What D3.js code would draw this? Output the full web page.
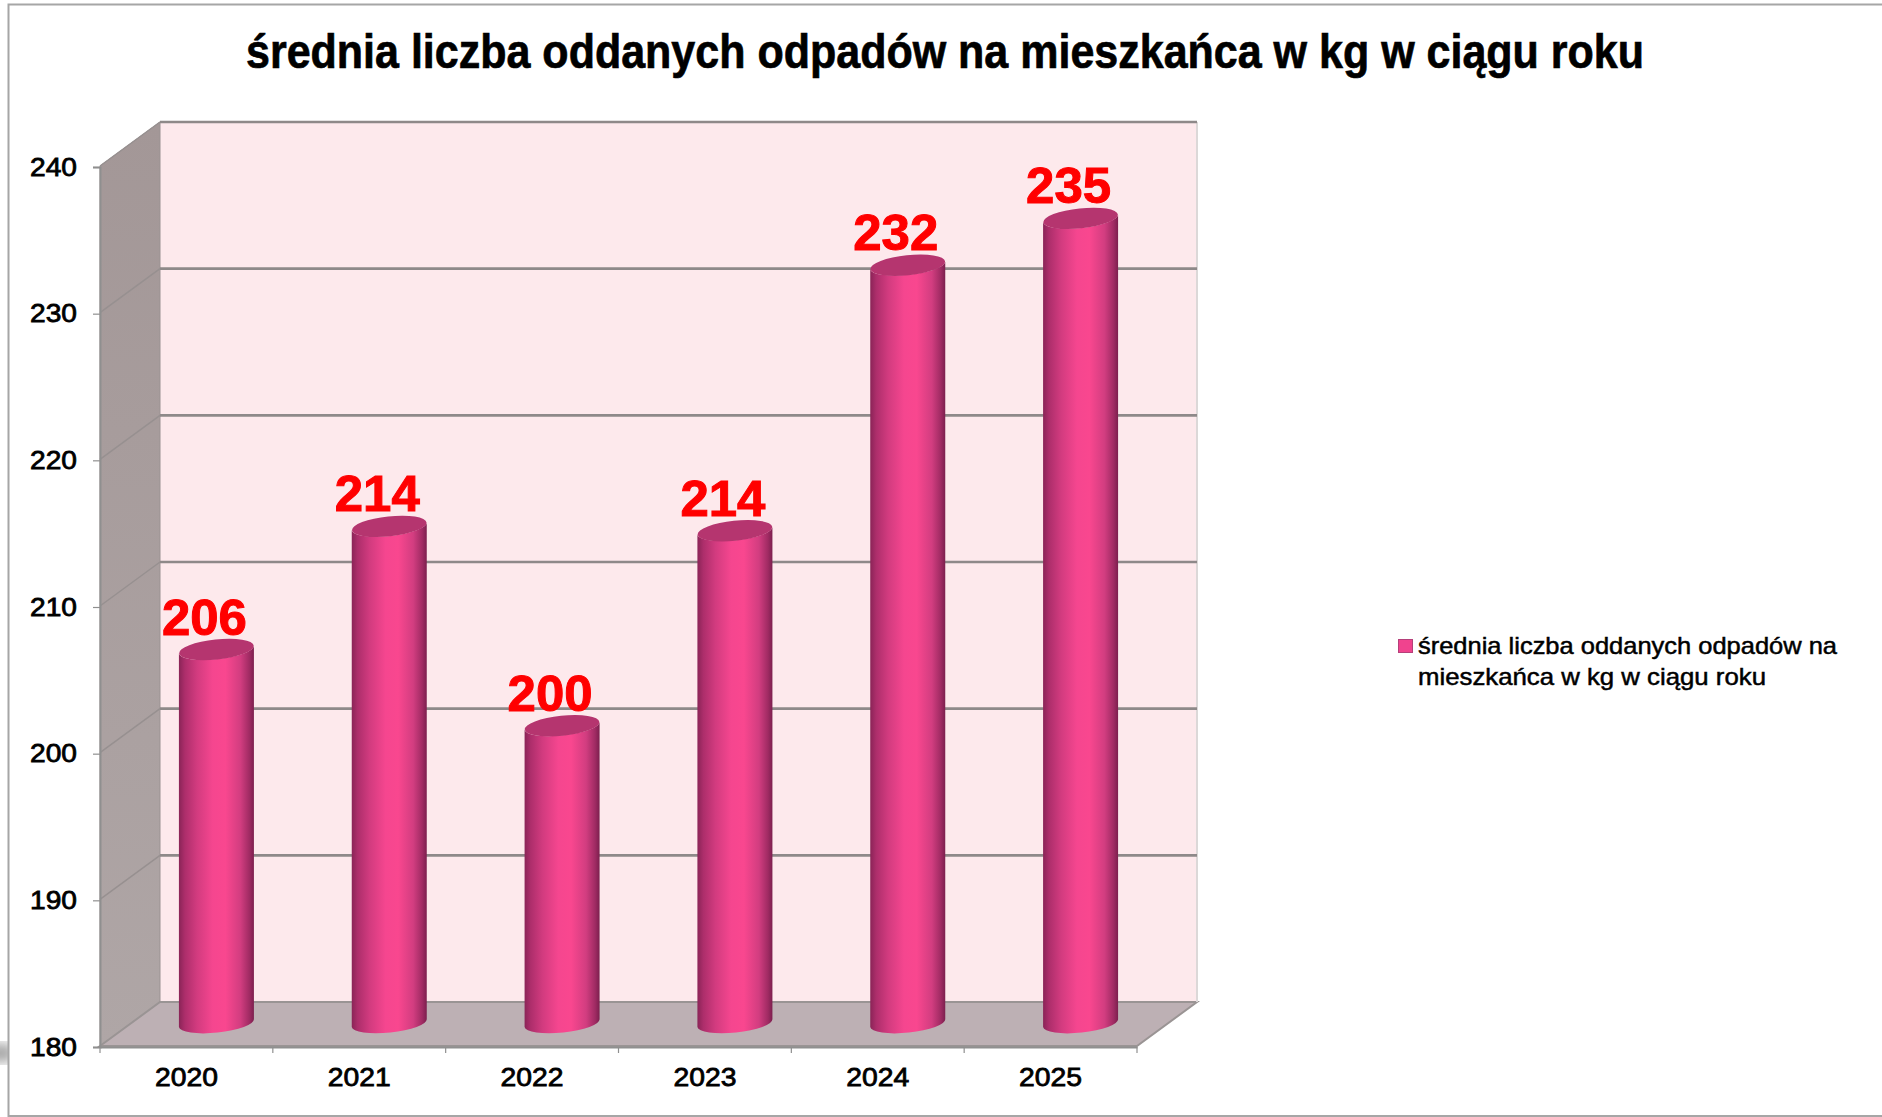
<!DOCTYPE html>
<html lang="pl">
<head>
<meta charset="utf-8">
<script src="https://cdn.jsdelivr.net/npm/d3@7/dist/d3.min.js"></script>
<style>
html,body{margin:0;padding:0;background:#fff;overflow:hidden}
svg{display:block}
</style>
</head>
<body>
<svg id="chart" width="1882" height="1117"></svg>
<script>
const titleText = "średnia liczba oddanych odpadów na mieszkańca w kg w ciągu roku";
const legendLines = ["średnia liczba oddanych odpadów na", "mieszkańca w kg w ciągu roku"];
const years = ["2020", "2021", "2022", "2023", "2024", "2025"];
const values = [205.6, 214.0, 200.4, 213.7, 231.8, 235];
const valueLabels = ["206", "214", "200", "214", "232", "235"];
const yTicks = [180, 190, 200, 210, 220, 230, 240];

const svg = d3.select("#chart");
const W = 1882, H = 1117;
const left = 100, right = 1137, top_ = 166, bottom = 1046;
const depthX = 60, depthY = -44;

const x = d3.scaleBand().domain(years).range([left, right]).padding(0);
const y = d3.scaleLinear().domain([180, 240]).range([bottom, top_]);

const defs = svg.append("defs");
const cyl = defs.append("linearGradient").attr("id", "cyl");
[[0, "#8a2457"], [0.08, "#ad2e6b"], [0.24, "#d23b7f"], [0.45, "#f5468f"], [0.62, "#f9478f"], [0.82, "#d23d80"], [0.94, "#a02b63"], [1, "#7c1f4e"]]
  .forEach(([o, c]) => cyl.append("stop").attr("offset", o).attr("stop-color", c));
const wall = defs.append("linearGradient").attr("id", "wall").attr("x1", 0).attr("y1", 0).attr("x2", 0).attr("y2", 1);
wall.append("stop").attr("offset", 0).attr("stop-color", "#a39797");
wall.append("stop").attr("offset", 1).attr("stop-color", "#afa6a6");
defs.append("filter").attr("id", "blur").append("feGaussianBlur").attr("stdDeviation", 6);

// page frame
svg.append("ellipse").attr("cx", 0).attr("cy", 1053).attr("rx", 16).attr("ry", 10)
  .attr("fill", "#a8a8a8").attr("filter", "url(#blur)");
svg.append("path").attr("d", `M8.5,${H}V4.5H${W}`).attr("fill", "#fff").attr("stroke", "#a6a6a6").attr("stroke-width", 2);
svg.append("path").attr("d", `M8.5,1116H${W}`).attr("stroke", "#a6a6a6").attr("stroke-width", 2);

// 3D box
const bx = v => v + depthX, by = v => v + depthY;
svg.append("rect").attr("x", bx(left)).attr("y", by(top_)).attr("width", right - left).attr("height", bottom - top_)
  .attr("fill", "#fde9ec");
svg.append("path")
  .attr("d", `M${left},${top_}L${bx(left)},${by(top_)}V${by(bottom)}L${left},${bottom}Z`)
  .attr("fill", "url(#wall)").attr("stroke", "#9a9292").attr("stroke-width", 1);
svg.append("path")
  .attr("d", `M${left},${bottom}L${bx(left)},${by(bottom)}H${bx(right)}L${right},${bottom}Z`)
  .attr("fill", "#bdb0b4").attr("stroke", "#9a9494").attr("stroke-width", 2);
svg.append("path").attr("d", `M${bx(right)},${by(top_)}V${by(bottom)}`).attr("stroke", "#dcd8d8").attr("stroke-width", 2).attr("fill", "none");

// gridlines
svg.append("g").selectAll("path").data(yTicks.slice(1)).join("path")
  .attr("d", d => `M${bx(left)},${by(y(d))}H${bx(right)}`)
  .attr("fill", "none").attr("stroke", "#8e8989").attr("stroke-width", 2.6);
svg.append("g").selectAll("path").data(yTicks.slice(1)).join("path")
  .attr("d", d => `M${left},${y(d)}L${bx(left)},${by(y(d))}`)
  .attr("fill", "none").attr("stroke", "#979090").attr("stroke-width", 1.5);

// axes
const fontAxis = "'Liberation Sans', Arial, sans-serif";
const yAxis = svg.append("g").attr("transform", `translate(${left},1)`)
  .call(d3.axisLeft(y).tickValues(yTicks).tickSize(7).tickPadding(16));
const xAxis = svg.append("g").attr("transform", `translate(0,${bottom + 1})`)
  .call(d3.axisBottom(x).tickSize(0).tickPadding(14));
svg.append("g").selectAll("line").data(d3.range(0, years.length + 1)).join("line")
  .attr("x1", i => left + i * x.step()).attr("x2", i => left + i * x.step())
  .attr("y1", bottom + 1).attr("y2", bottom + 7).attr("stroke", "#8f8f8f").attr("stroke-width", 1.2);
[yAxis, xAxis].forEach(a => {
  a.selectAll(".domain").attr("stroke", "#8f8f8f").attr("stroke-width", 2);
  a.selectAll(".tick line").attr("stroke", "#8f8f8f").attr("stroke-width", 1.2);
  a.selectAll("text").attr("font-family", fontAxis).attr("font-size", 26).attr("font-weight", 400)
    .attr("fill", "#000").attr("stroke", "#000").attr("stroke-width", 0.8);
});
yAxis.selectAll(".tick text").attr("textLength", 47).attr("lengthAdjust", "spacingAndGlyphs");
xAxis.selectAll(".tick text").attr("dy", "0.95em").attr("textLength", 63).attr("lengthAdjust", "spacingAndGlyphs");

// cylinders
const rx = 37.5, ry = 9.6, tilt = -6, sl = 4;
const cxOf = d => x(d) + x.bandwidth() / 2 + 30;
const yOf = v => y(v) - 21;
const bars = svg.append("g").selectAll("g").data(years.map((d, i) => ({ year: d, v: values[i], label: valueLabels[i] }))).join("g");
bars.append("path")
  .attr("d", d => {
    const c = cxOf(d.year), t = yOf(d.v), b = yOf(180) - 2;
    return `M${c - rx},${t + sl}L${c - rx},${b + sl}A${rx},${ry} ${tilt} 0 0 ${c + rx},${b - sl}L${c + rx},${t - sl}A${rx},${ry} ${tilt} 0 1 ${c - rx},${t + sl}Z`;
  })
  .attr("fill", "url(#cyl)");
bars.append("ellipse")
  .attr("cx", d => cxOf(d.year)).attr("cy", d => yOf(d.v))
  .attr("rx", rx).attr("ry", ry + 0.4)
  .attr("transform", d => `rotate(${tilt} ${cxOf(d.year)} ${yOf(d.v)})`)
  .attr("fill", "#b5356f");
bars.append("text")
  .attr("x", d => cxOf(d.year) - 12).attr("y", d => yOf(d.v) - 15)
  .attr("text-anchor", "middle")
  .attr("font-family", "'Liberation Sans', Arial, sans-serif").attr("font-weight", 700).attr("font-size", 50)
  .attr("fill", "#ff0000").attr("stroke", "#ff0000").attr("stroke-width", 1)
  .attr("textLength", 85).attr("lengthAdjust", "spacingAndGlyphs")
  .text(d => d.label);

// title
svg.append("text").attr("x", 945).attr("y", 68).attr("text-anchor", "middle")
  .attr("font-family", "'Liberation Sans', Arial, sans-serif").attr("font-weight", 700).attr("font-size", 48)
  .attr("fill", "#000").attr("stroke", "#000").attr("stroke-width", 0.7)
  .attr("textLength", 1398).attr("lengthAdjust", "spacingAndGlyphs")
  .text(titleText);

// legend
const legendX = 1398;
svg.append("rect").attr("x", legendX + 0.5).attr("y", 639.5).attr("width", 14).attr("height", 13)
  .attr("fill", "#f0438e").attr("stroke", "#b5407a").attr("stroke-width", 1);
svg.append("g").selectAll("text").data(legendLines).join("text")
  .attr("x", 1418).attr("y", (d, i) => 654 + i * 31)
  .attr("font-family", fontAxis).attr("font-size", 24).attr("fill", "#000")
  .attr("stroke", "#000").attr("stroke-width", 0.5)
  .attr("textLength", (d, i) => i === 0 ? 419 : 348).attr("lengthAdjust", "spacingAndGlyphs")
  .text(d => d);
</script>
</body>
</html>
